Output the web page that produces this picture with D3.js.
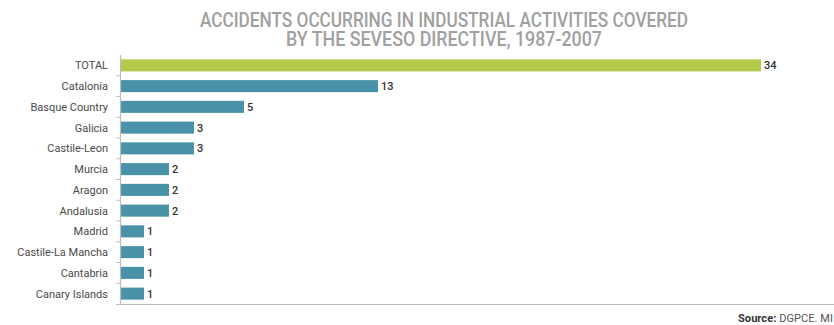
<!DOCTYPE html>
<html>
<head>
<meta charset="utf-8">
<script src="https://cdn.jsdelivr.net/npm/d3@7"></script>
<style>
  body { margin: 0; background: #fff; }
  svg { display: block; font-family: Roboto, "DejaVu Sans", sans-serif; }
</style>
</head>
<body>
<script>
// chart data
var regions = ["TOTAL", "Catalonia", "Basque Country", "Galicia", "Castile-Leon", "Murcia",
  "Aragon", "Andalusia", "Madrid", "Castile-La Mancha", "Cantabria", "Canary Islands"];
var accidents = [34, 13, 5, 3, 3, 2, 2, 2, 1, 1, 1, 1];
var titleLines = ["ACCIDENTS OCCURRING IN INDUSTRIAL ACTIVITIES COVERED", "BY THE SEVESO DIRECTIVE, 1987-2007"];

var W = 834, H = 325;
var x0 = 120, plotTop = 55, plotBottom = 304;

var svg = d3.select("body").append("svg")
  .attr("width", W).attr("height", H);

// title
svg.selectAll("text.title").data(titleLines).enter()
  .append("text").attr("class", "title")
  .attr("x", 444).attr("y", (d, i) => 27 + i * 19)
  .attr("text-anchor", "middle")
  .attr("textLength", (d, i) => i == 0 ? 488 : 316)
  .attr("lengthAdjust", "spacingAndGlyphs")
  .style("font-size", "19.5px")
  .style("font-weight", 500)
  .style("fill", "#a0a0a0")
  .text(d => d);

// scales (the original drawing is not quite proportional, so piecewise)
var x = d3.scaleLinear().domain([0, 1, 5, 13, 34]).range([x0, x0 + 24, x0 + 124, x0 + 258, x0 + 641]);
var y = d3.scaleBand().domain(regions).range([plotTop, plotBottom]).paddingInner(0.42).paddingOuter(0.21);

// bars
svg.selectAll("rect.bar").data(regions).enter()
  .append("rect").attr("class", "bar")
  .attr("x", x(0) + 0.5)
  .attr("y", d => y(d))
  .attr("height", y.bandwidth())
  .attr("width", (d, i) => x(accidents[i]) - x(0) - 0.5)
  .style("fill", (d, i) => i == 0 ? "#b5c94b" : "#4a92a7");

// value labels
svg.selectAll("text.val").data(regions).enter()
  .append("text").attr("class", "val")
  .attr("x", (d, i) => x(accidents[i]) + 3)
  .attr("y", d => y(d) + y.bandwidth() / 2)
  .attr("dy", "0.36em")
  .style("font-size", "11px")
  .style("font-weight", 500)
  .style("fill", "#333")
  .text((d, i) => accidents[i]);

// category labels
svg.selectAll("text.cat").data(regions).enter()
  .append("text").attr("class", "cat")
  .attr("x", 108)
  .attr("y", d => y(d) + y.bandwidth() / 2)
  .attr("dy", "0.36em")
  .attr("text-anchor", "end")
  .style("font-size", "11px")
  .style("fill", "#4a4a4a")
  .text(d => d);

// left axis with ticks between bands
var step = y.step();
var tickYs = regions.slice(1).map(d => y(d) - step * y.paddingInner() / 2);
svg.selectAll("line.tick").data(tickYs).enter()
  .append("line").attr("class", "tick")
  .attr("x1", x0 - 4).attr("x2", x0)
  .attr("y1", d => d).attr("y2", d => d)
  .style("stroke", "#c4c4c4").style("stroke-width", 1);

svg.append("line")
  .attr("x1", x0 + 0.5).attr("x2", x0 + 0.5)
  .attr("y1", plotTop).attr("y2", plotBottom)
  .style("stroke", "#bdbdbd").style("stroke-width", 1.2);

svg.append("line")
  .attr("x1", x0 - 4).attr("x2", W)
  .attr("y1", plotBottom + 0.5).attr("y2", plotBottom + 0.5)
  .style("stroke", "#bdbdbd").style("stroke-width", 1.2);

// source
var src = svg.append("text")
  .attr("x", 738).attr("y", 322)
  .attr("textLength", 95)
  .style("font-size", "11px")
  .style("fill", "#555");
src.append("tspan").style("font-weight", "bold").style("fill", "#333").text("Source: ");
src.append("tspan").text("DGPCE. MI");
</script>
</body>
</html>
